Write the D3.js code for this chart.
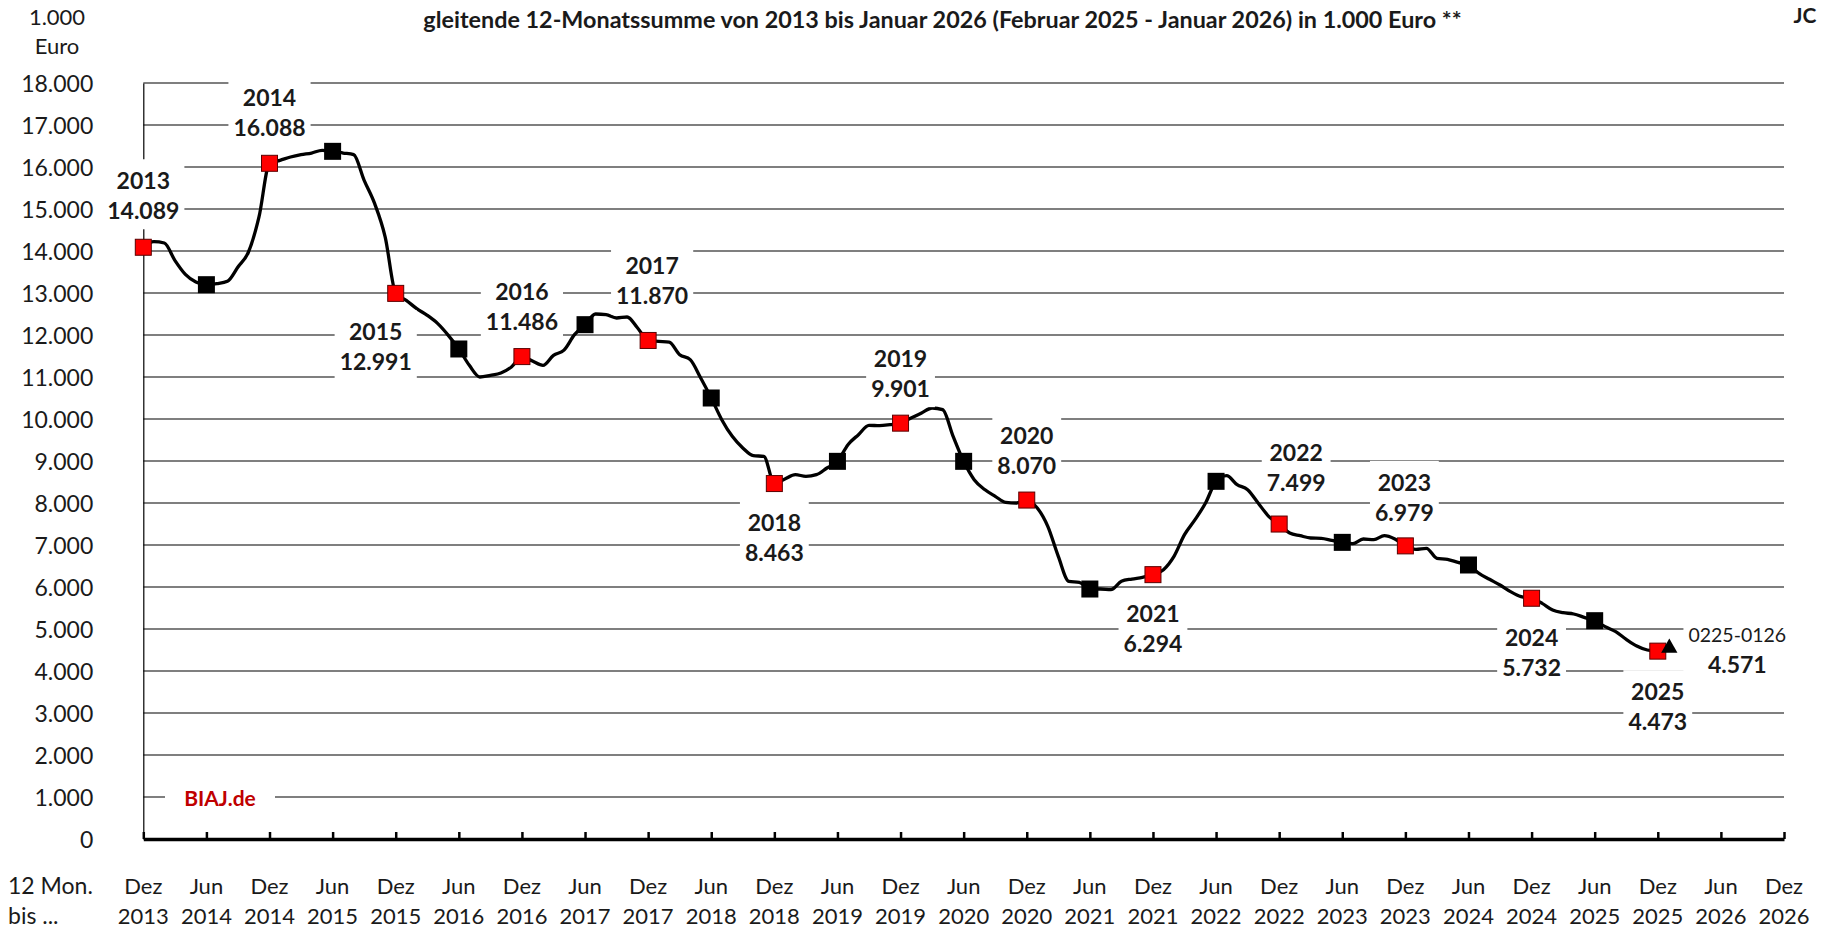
<!DOCTYPE html>
<html><head><meta charset="utf-8">
<script src="https://cdn.jsdelivr.net/npm/d3@7"></script>
<style>
body{margin:0;background:#fff;}
svg{display:block;font-family:Lato,"Open Sans","Liberation Sans",sans-serif;}
</style>
</head><body>
<svg id="c" width="1825" height="928"></svg>
<script>
// ---- data (monthly rolling 12-month sums, 1.000 Euro), Dez 2013 ... Jan 2026 ----
const monthValues = [
 14089,14222,14190,13778,13444,13262,13198,13222,13278,13619,13976,14810,
 16088,16159,16238,16294,16333,16397,16373,16333,16294,15683,15127,14333,
 12991,12825,12627,12468,12270,11992,11667,11278,11000,11040,11095,11238,
 11486,11381,11278,11516,11640,12008,12246,12500,12484,12405,12429,12167,
 11870,11849,11833,11532,11413,10976,10500,9984,9587,9310,9127,9111,
 8463,8571,8675,8635,8675,8833,8992,9389,9627,9849,9841,9865,
 9901,10024,10143,10262,10222,9587,8992,8556,8320,8159,8016,8000,
 8070,7881,7444,6730,6135,6111,5952,5952,5937,6135,6190,6230,
 6294,6413,6730,7246,7603,8000,8516,8651,8437,8317,8000,7683,
 7499,7286,7222,7167,7159,7111,7063,7032,7143,7127,7222,7143,
 6979,6897,6921,6683,6659,6587,6524,6325,6183,6048,5889,5770,
 5732,5611,5452,5389,5357,5278,5198,5056,4937,4754,4595,4500,
 4473,4571
];
const xTickMonth = ["Dez","Jun","Dez","Jun","Dez","Jun","Dez","Jun","Dez","Jun","Dez","Jun","Dez","Jun",
  "Dez","Jun","Dez","Jun","Dez","Jun","Dez","Jun","Dez","Jun","Dez","Jun","Dez"];
const xTickYear = ["2013","2014","2014","2015","2015","2016","2016","2017","2017","2018","2018","2019","2019","2020",
  "2020","2021","2021","2022","2022","2023","2023","2024","2024","2025","2025","2026","2026"];
const yTickValues = [0,1000,2000,3000,4000,5000,6000,7000,8000,9000,10000,11000,12000,13000,14000,15000,16000,17000,18000];
const annualYears = ["2013","2014","2015","2016","2017","2018","2019","2020","2021","2022","2023","2024","2025"];
const annualValues = [14089,16088,12991,11486,11870,8463,9901,8070,6294,7499,6979,5732,4473];
const lastPeriodLabel = "0225-0126";
const lastPeriodValue = 4571;
const titleText = "gleitende 12-Monatssumme von 2013 bis Januar 2026 (Februar 2025 - Januar 2026) in 1.000 Euro **";

// ---- layout ----
const svg = d3.select("#c");
const de = d3.formatLocale({decimal:",", thousands:".", grouping:[3], currency:["","€"]});
const fmt = de.format(",d");
const x = d3.scaleLinear().domain([0,156]).range([143.3,1784]);
const y = d3.scaleLinear().domain([0,18000]).range([839,83]);
const TXT = "#1a1a1a";

function fit(sel, w){ const l = sel.node().getComputedTextLength(); const fs = parseFloat(sel.attr("font-size")); sel.attr("font-size", fs*w/l); }
const t = svg.append("text").attr("x",942.5).attr("y",19).attr("text-anchor","middle").attr("dominant-baseline","central")
  .attr("font-weight","bold").attr("font-size",20).attr("fill",TXT).text(titleText);
fit(t, 1039);
svg.append("text").attr("x",1805).attr("y",14).attr("text-anchor","middle").attr("dominant-baseline","central")
  .attr("font-weight","bold").attr("font-size",21).attr("fill",TXT).text("JC");
svg.append("text").attr("x",57).attr("y",16).attr("text-anchor","middle").attr("dominant-baseline","central")
  .attr("font-size",22).attr("fill",TXT).text("1.000");
svg.append("text").attr("x",57).attr("y",45).attr("text-anchor","middle").attr("dominant-baseline","central")
  .attr("font-size",22).attr("fill",TXT).text("Euro");

// gridlines
svg.append("g").selectAll("line").data(yTickValues.filter(v=>v>0)).join("line")
  .attr("x1",x(0)).attr("x2",x(156)).attr("y1",d=>y(d)).attr("y2",d=>y(d))
  .attr("stroke","#555").attr("stroke-width",1.4);

// y axis
const ya = svg.append("g").attr("transform",`translate(${x(0)},0)`)
  .call(d3.axisLeft(y).tickValues(yTickValues).tickSize(0).tickPadding(50).tickFormat(fmt));
ya.select(".domain").attr("stroke","#000").attr("stroke-width",1.2);
ya.selectAll("text").attr("font-size",23).attr("fill",TXT).attr("font-family","Lato,'Open Sans',sans-serif").attr("dy","0.35em");

// x axis
const xTicks = d3.range(0,157,6);
const xa = svg.append("g").attr("transform",`translate(0,${y(0)})`)
  .call(d3.axisBottom(x).tickValues(xTicks).tickSizeInner(-7).tickSizeOuter(0).tickFormat(""));
xa.select(".domain").attr("stroke","#000").attr("stroke-width",3.5);
xa.selectAll(".tick line").attr("stroke","#000").attr("stroke-width",2.5);
const xl = svg.append("g");
xl.selectAll("text.m").data(xTicks).join("text").attr("class","m")
  .attr("x",d=>x(d)).attr("y",885).attr("text-anchor","middle").attr("dominant-baseline","central")
  .attr("font-size",22).attr("fill",TXT).text((d,i)=>xTickMonth[i]);
xl.selectAll("text.yr").data(xTicks).join("text").attr("class","yr")
  .attr("x",d=>x(d)).attr("y",915).attr("text-anchor","middle").attr("dominant-baseline","central")
  .attr("font-size",22).attr("fill",TXT).text((d,i)=>xTickYear[i]);
svg.append("text").attr("x",8).attr("y",885).attr("dominant-baseline","central").attr("font-size",23).attr("fill",TXT).text("12 Mon.");
svg.append("text").attr("x",8).attr("y",915).attr("dominant-baseline","central").attr("font-size",23).attr("fill",TXT).text("bis ...");

// data line
const line = d3.line().x((d,i)=>x(i)).y(d=>y(d)).curve(d3.curveMonotoneX);
svg.append("path").datum(monthValues).attr("d",line).attr("fill","none")
  .attr("stroke","#000").attr("stroke-width",3.3).attr("stroke-linejoin","round").attr("stroke-linecap","round");

// markers
const idx = monthValues.map((v,i)=>i);
const jun = idx.filter(i=>i%12===6);
const dez = idx.filter(i=>i%12===0);
svg.append("g").selectAll("rect").data(jun).join("rect")
  .attr("x",i=>x(i)-8.5).attr("y",i=>y(monthValues[i])-8.5).attr("width",17).attr("height",17).attr("fill","#000");
svg.append("g").selectAll("rect").data(dez).join("rect")
  .attr("x",i=>x(i)-8).attr("y",i=>y(monthValues[i])-8).attr("width",16).attr("height",16)
  .attr("fill","#ff0000").attr("stroke","#5a0000").attr("stroke-width",1);
const last = monthValues.length-1;
svg.append("path").attr("d",d3.symbol(d3.symbolTriangle,115)())
  .attr("transform",`translate(${x(last)+1},${y(monthValues[last])+1})`).attr("fill","#000");

// data labels (offsets from the marker in px)
const labelOffset = [[0,-67],[0,-66],[-20,38],[0,-66],[4,-75],[0,38],[0,-65],[0,-65],[0,38],[17,-72],[-1,-64],[0,39],[0,40]];
function dataLabel(cx, cy, top, bottom, boldTop){
  const g = svg.append("g");
  const r = g.append("rect").attr("fill","#fff");
  const t1 = g.append("text").attr("x",cx).attr("y",cy).attr("text-anchor","middle").attr("dominant-baseline","central")
    .attr("font-size",boldTop?23:19.5).attr("font-weight",boldTop?"bold":"normal").attr("fill",TXT).text(top);
  const t2 = g.append("text").attr("x",cx).attr("y",cy+30).attr("text-anchor","middle").attr("dominant-baseline","central")
    .attr("font-size",23).attr("font-weight","bold").attr("fill",TXT).text(bottom);
  const w = Math.max(t1.node().getComputedTextLength(), t2.node().getComputedTextLength()) + 10;
  r.attr("x",cx-w/2).attr("y",cy-21).attr("width",w).attr("height",70);
}
dez.forEach((i,k)=>{
  const o = labelOffset[k];
  dataLabel(x(i)+o[0], y(monthValues[i])+o[1], annualYears[k], fmt(annualValues[k]), true);
});
dataLabel(x(last)+69, y(lastPeriodValue)-13, lastPeriodLabel, fmt(lastPeriodValue), false);

// watermark
const bg = svg.append("g");
const br = bg.append("rect").attr("fill","#fff");
bg.append("text").attr("x",220).attr("y",y(1000)).attr("text-anchor","middle").attr("dominant-baseline","central")
  .attr("font-size",21).attr("font-weight","bold").attr("fill","#c00000").text("BIAJ.de");
br.attr("x",165).attr("y",y(1000)-12).attr("width",110).attr("height",24);
</script>
</body></html>
